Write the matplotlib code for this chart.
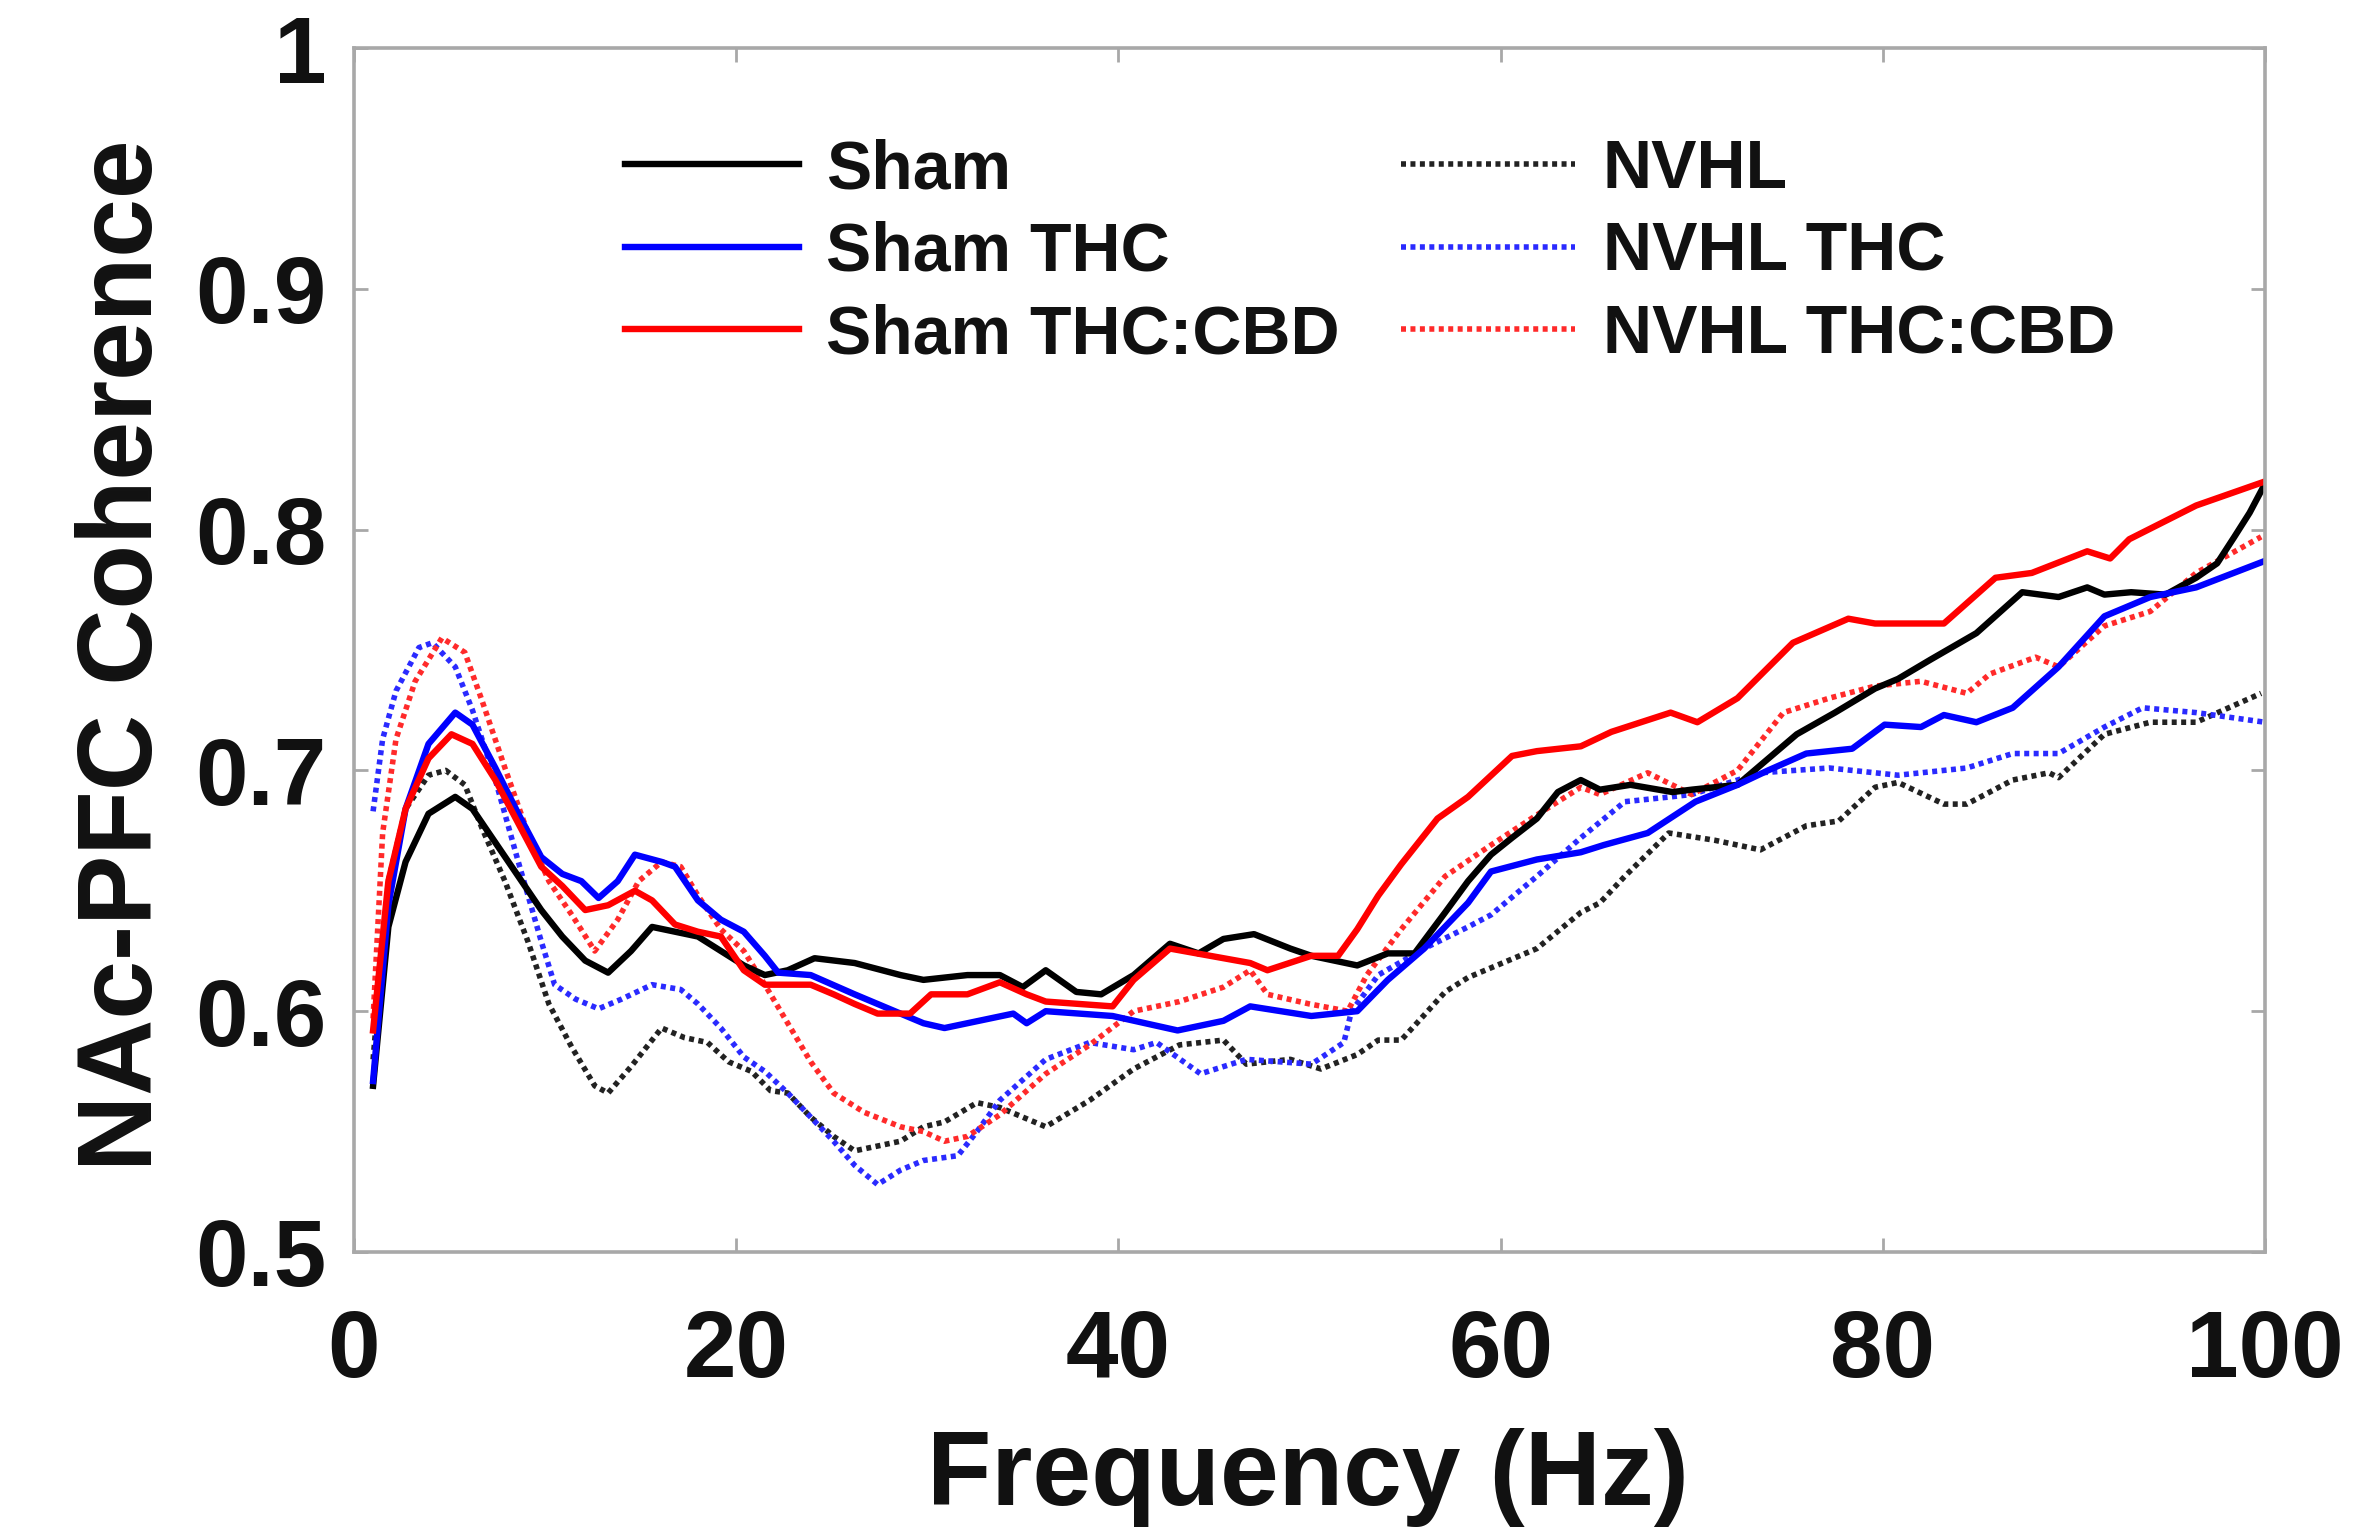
import matplotlib
matplotlib.use("Agg")
import matplotlib.pyplot as plt
from matplotlib.font_manager import FontProperties

plt.rcParams['font.family'] = ['Liberation Sans', 'DejaVu Sans']
plt.rcParams['font.weight'] = 'bold'

# ---------------- data ----------------
sham_f = [1, 1.8, 2.7, 3.9, 5.3, 6.2, 7.4, 8.6, 9.8, 10.9, 12.1, 13.3, 14.5, 15.6, 16.8, 18, 19.2,
          20.4, 21.5, 22.7, 24.1, 26.2, 28.6, 29.8, 32.1, 33.8, 35, 36.2, 37.8, 39.1, 40.8, 42.7,
          44.2, 45.5, 47.1, 49, 50.1, 52.5, 54.1, 55.5, 57.1, 58.3, 59.5, 60.6, 61.9, 63, 64.2,
          65.2, 66.8, 69, 70, 72.4, 75.5, 77.5, 79.6, 80.8, 82.5, 84.9, 87.3, 89.2, 90.7, 91.6,
          93, 94.8, 96.4, 97.5, 98.4, 99.2, 100]
sham_v = [0.569, 0.635, 0.662, 0.682, 0.689, 0.684, 0.670, 0.656, 0.642, 0.631, 0.621, 0.616,
          0.625, 0.635, 0.633, 0.631, 0.625, 0.619, 0.615, 0.617, 0.622, 0.620, 0.615, 0.613,
          0.615, 0.615, 0.610, 0.617, 0.608, 0.607, 0.615, 0.628, 0.624, 0.630, 0.632, 0.626,
          0.623, 0.619, 0.624, 0.624, 0.641, 0.654, 0.665, 0.672, 0.680, 0.691, 0.696, 0.692,
          0.694, 0.691, 0.692, 0.694, 0.715, 0.724, 0.734, 0.738, 0.746, 0.757, 0.774, 0.772,
          0.776, 0.773, 0.774, 0.773, 0.780, 0.786, 0.797, 0.807, 0.819]

sham_thc_f = [1, 1.8, 2.7, 3.9, 5.3, 6.2, 7.4, 8.6, 9.8, 10.9, 11.9, 12.8, 13.8, 14.7, 16.1, 16.8,
              18, 19.2, 20.4, 21.5, 22.2, 23.9, 26.2, 28.6, 29.8, 30.9, 32.1, 34.5, 35.2, 36.2,
              39.7, 43.1, 45.5, 46.9, 50.1, 52.5, 54.1, 56, 58.3, 59.5, 61.9, 64.2, 65.4, 67.7,
              70.2, 72.4, 74, 76, 78.4, 80.1, 82, 83.2, 84.9, 86.8, 89.2, 91.6, 94, 96.4, 100]
sham_thc_v = [0.571, 0.644, 0.684, 0.711, 0.724, 0.719, 0.701, 0.682, 0.664, 0.657, 0.654, 0.647,
              0.654, 0.665, 0.662, 0.660, 0.646, 0.638, 0.633, 0.623, 0.616, 0.615, 0.607, 0.599,
              0.595, 0.593, 0.595, 0.599, 0.595, 0.600, 0.598, 0.592, 0.596, 0.602, 0.598, 0.600,
              0.613, 0.626, 0.645, 0.658, 0.663, 0.666, 0.669, 0.674, 0.687, 0.694, 0.700, 0.707,
              0.709, 0.719, 0.718, 0.723, 0.720, 0.726, 0.743, 0.764, 0.772, 0.776, 0.787]

sham_cbd_f = [1, 1.8, 2.7, 3.9, 5.1, 6.2, 7.4, 8.6, 9.8, 10.9, 12.1, 13.3, 14.7, 15.6, 16.8, 18,
              19.2, 20.4, 21.5, 23.9, 25.1, 26.2, 27.4, 29.1, 30.2, 32.1, 33.8, 35.2, 36.2, 39.7,
              40.8, 42.7, 45.5, 46.9, 47.8, 50.1, 51.5, 52.5, 53.6, 54.8, 56.7, 58.3, 60.6, 61.9,
              64.2, 65.8, 68.9, 70.3, 72.4, 75.3, 78.2, 79.6, 83.2, 85.9, 87.8, 90.7, 91.9, 92.9,
              96.4, 100]
sham_cbd_v = [0.592, 0.654, 0.684, 0.705, 0.715, 0.711, 0.696, 0.678, 0.660, 0.652, 0.642, 0.644,
              0.650, 0.646, 0.636, 0.633, 0.631, 0.617, 0.611, 0.611, 0.607, 0.603, 0.599, 0.599,
              0.607, 0.607, 0.612, 0.607, 0.604, 0.602, 0.613, 0.626, 0.622, 0.620, 0.617, 0.623,
              0.623, 0.634, 0.648, 0.661, 0.680, 0.689, 0.706, 0.708, 0.710, 0.716, 0.724, 0.720,
              0.730, 0.753, 0.763, 0.761, 0.761, 0.780, 0.782, 0.791, 0.788, 0.796, 0.810, 0.820]

nvhl_f = [1, 1.8, 2.7, 3.9, 4.8, 5.8, 6.7, 7.9, 9.1, 10.2, 11.4, 12.6, 13.3, 14.5, 16.1, 17.3,
          18.5, 19.6, 20.8, 21.8, 22.7, 23.9, 25.1, 26.2, 27.4, 28.6, 29.8, 30.9, 32.6, 33.8,
          36.2, 38.5, 40.8, 43.2, 45.5, 46.7, 49, 50.6, 52.5, 53.6, 54.8, 55.5, 57.1, 58.3, 59.5,
          61.9, 64.2, 65.2, 66.5, 68.8, 71.2, 73.6, 76, 77.7, 79.6, 80.8, 83.2, 84.4, 86.8, 88.7,
          89.2, 91.6, 94, 96.4, 99.8]
nvhl_v = [0.580, 0.654, 0.684, 0.698, 0.700, 0.694, 0.676, 0.654, 0.629, 0.603, 0.585, 0.569,
          0.566, 0.577, 0.593, 0.589, 0.587, 0.579, 0.575, 0.567, 0.566, 0.556, 0.548, 0.542,
          0.544, 0.546, 0.552, 0.554, 0.562, 0.560, 0.552, 0.563, 0.576, 0.586, 0.588, 0.578,
          0.580, 0.576, 0.582, 0.588, 0.588, 0.594, 0.608, 0.614, 0.618, 0.626, 0.641, 0.645,
          0.656, 0.674, 0.671, 0.667, 0.677, 0.679, 0.693, 0.695, 0.686, 0.686, 0.696, 0.699,
          0.697, 0.715, 0.720, 0.720, 0.732]

nvhl_thc_f = [1, 1.5, 2.2, 3.4, 4.1, 5.3, 6.2, 7.4, 8.6, 9.8, 10.5, 11.6, 12.8, 14, 15.6, 17.1,
              18, 19.2, 20.4, 21.5, 22.7, 23.9, 25.1, 26.2, 27.4, 28.6, 29.8, 31.6, 32.6, 33.8,
              36.2, 38.5, 40.8, 42, 44.3, 46.7, 50.1, 51.8, 52.2, 53.6, 56, 58.3, 59.5, 61.9, 64.2,
              66.5, 68.9, 70, 73.6, 77.2, 80.8, 84.4, 86.8, 89.2, 91.6, 93.6, 96.4, 100]
nvhl_thc_v = [0.683, 0.713, 0.733, 0.751, 0.753, 0.743, 0.725, 0.696, 0.662, 0.629, 0.611, 0.605,
              0.601, 0.605, 0.611, 0.609, 0.603, 0.593, 0.581, 0.575, 0.566, 0.556, 0.546, 0.536,
              0.528, 0.534, 0.538, 0.540, 0.550, 0.563, 0.580, 0.587, 0.584, 0.587, 0.574, 0.580,
              0.578, 0.587, 0.600, 0.615, 0.626, 0.635, 0.640, 0.656, 0.672, 0.687, 0.689, 0.690,
              0.699, 0.701, 0.698, 0.701, 0.707, 0.707, 0.718, 0.726, 0.724, 0.720]

nvhl_cbd_f = [1, 1.5, 2.2, 3.2, 4.6, 5.8, 6.7, 7.9, 9.1, 10.2, 11.4, 12.6, 13.8, 14.9, 16.1, 17.1,
              18, 19.2, 20.4, 21.5, 22.7, 23.9, 25.1, 26.7, 28.6, 29.8, 30.9, 32.1, 33.8, 36.2,
              38.5, 40.8, 43.2, 45.5, 46.9, 47.8, 50, 52, 53, 54.8, 57.1, 59.5, 62, 64.2, 65.2,
              67.7, 70, 72.4, 74.8, 77.2, 79.6, 82, 84.4, 85.6, 88, 89.2, 91.6, 94, 96.4, 99.8]
nvhl_cbd_v = [0.597, 0.674, 0.713, 0.737, 0.755, 0.749, 0.729, 0.701, 0.674, 0.654, 0.640, 0.625,
              0.638, 0.654, 0.662, 0.660, 0.648, 0.634, 0.625, 0.611, 0.595, 0.579, 0.566, 0.558,
              0.552, 0.550, 0.546, 0.548, 0.557, 0.574, 0.586, 0.600, 0.604, 0.610, 0.617, 0.607,
              0.603, 0.600, 0.615, 0.634, 0.656, 0.669, 0.682, 0.693, 0.690, 0.699, 0.690, 0.700,
              0.724, 0.730, 0.735, 0.737, 0.732, 0.740, 0.747, 0.743, 0.760, 0.766, 0.782, 0.797]

labels = ["Sham", "Sham THC", "Sham THC:CBD", "NVHL", "NVHL THC", "NVHL THC:CBD"]
xticks = [0, 20, 40, 60, 80, 100]
yticks = [0.5, 0.6, 0.7, 0.8, 0.9, 1.0]
yticklabels = ["0.5", "0.6", "0.7", "0.8", "0.9", "1"]

# ---------------- figure ----------------
fig = plt.figure(figsize=(23.63, 15.39), dpi=100)
ax = fig.add_axes([0.1498, 0.1865, 0.8087, 0.7823])

solid_lw = 4.6
dot_lw = 4.0
dot_style = (0, (0.9, 0.8))

series = [
    (sham_f, sham_v, '#000000', '-', solid_lw),
    (sham_thc_f, sham_thc_v, '#0000ff', '-', solid_lw),
    (sham_cbd_f, sham_cbd_v, '#ff0000', '-', solid_lw),
    (nvhl_f, nvhl_v, '#222222', dot_style, dot_lw),
    (nvhl_thc_f, nvhl_thc_v, '#2a2aff', dot_style, dot_lw),
    (nvhl_cbd_f, nvhl_cbd_v, '#ff2a2a', dot_style, dot_lw),
]
# draw dotted first, then solid on top
order = [3, 4, 5, 0, 1, 2]
handles = [None] * 6
for i in order:
    f, v, c, ls, lw = series[i]
    ln, = ax.plot(f, v, color=c, linestyle=ls, linewidth=lw, label=labels[i])
    handles[i] = ln

ax.set_xlim(0, 100)
ax.set_ylim(0.5, 1.0)
ax.set_xticks(xticks)
ax.set_xticklabels([str(t) for t in xticks])
ax.set_yticks(yticks)
ax.set_yticklabels(yticklabels)

spine_c = '#a8a8a8'
for s in ax.spines.values():
    s.set_color(spine_c)
    s.set_linewidth(2.6)

ax.tick_params(axis='both', direction='in', length=10, width=2, color=spine_c,
               top=True, right=True, labelsize=68, labelcolor='#111111')
ax.tick_params(axis='x', pad=40)
ax.tick_params(axis='y', pad=20)

ax.set_xlabel("Frequency (Hz)", fontsize=76, fontweight='bold', color='#111111')
ax.set_ylabel("NAc-PFC Coherence", fontsize=76, fontweight='bold', color='#111111')
ax.xaxis.set_label_coords(0.499, -0.146)
ax.yaxis.set_label_coords(-0.094, 0.4955)

leg = ax.legend(handles=handles, labels=labels, ncol=2, loc='upper left',
                bbox_to_anchor=(0.1418, 0.925), frameon=False,
                prop=FontProperties(family=['Liberation Sans', 'DejaVu Sans'], weight='bold', size=49),
                handlelength=2.56, handletextpad=0.4, columnspacing=0.9,
                labelspacing=0.27, borderpad=0, borderaxespad=0)
for t in leg.get_texts():
    t.set_color('#111111')

fig.savefig("out.png", dpi=100)
